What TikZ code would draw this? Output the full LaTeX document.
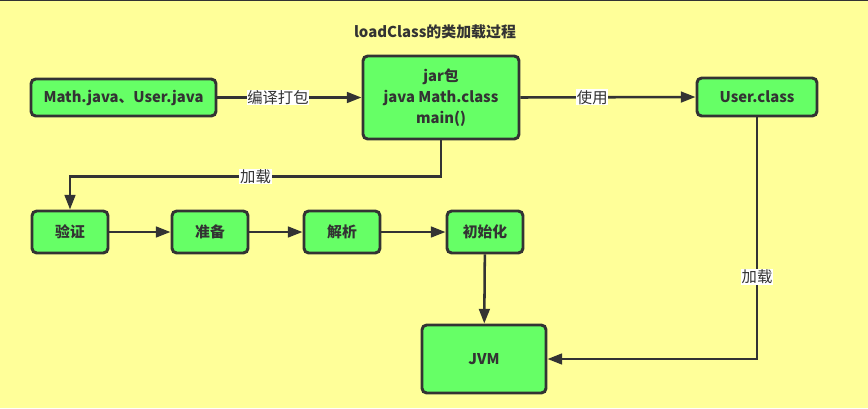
\documentclass[tikz,border=0pt]{standalone}
\usepackage{fontspec}
\setmainfont{Noto Sans CJK SC}
\usetikzlibrary{arrows.meta}
\definecolor{bgy}{HTML}{FFFF99}
\definecolor{boxg}{HTML}{66FF66}
\definecolor{ink}{HTML}{333333}
\tikzset{
  box/.style={draw=ink, fill=boxg, line width=2.2pt, rounded corners=3.5pt, font=\bfseries\fontsize{11.1}{15.5}\selectfont, text=ink, align=center, inner sep=0pt},
  conn/.style={draw=ink, line width=1.9pt, -{Triangle[length=11pt,width=8pt]}},
  lbl/.style={fill=white, inner sep=0.6pt, font=\fontsize{11.5}{13}\selectfont, text=ink}
}
\begin{document}
\begin{tikzpicture}[x=0.75pt,y=-0.75pt]
\fill[bgy] (0,0) rectangle (868,408);
\useasboundingbox (0,0) rectangle (868,408);
\draw[ink, line width=1.6pt] (0,0) -- (868,0);
\node[font=\bfseries\fontsize{11.2}{13}\selectfont, text=ink] (title) at (435,32) {loadClass的类加载过程};
\node[box, minimum width=138.75pt, minimum height=27.75pt] (src) at (123.5,97.5) {Math.java、User.java};
\node[box, minimum width=117pt, minimum height=62.25pt] (jar) at (441,97.5) {jar包\\java Math.class\\main()};
\node[box, minimum width=90pt, minimum height=28.5pt] (uc) at (757,97) {User.class};
\node[box, minimum width=57pt, minimum height=31.5pt] (v) at (70,232) {验证};
\node[box, minimum width=57pt, minimum height=31.5pt] (p) at (210,232) {准备};
\node[box, minimum width=57pt, minimum height=31.5pt] (r) at (342,232) {解析};
\node[box, minimum width=57pt, minimum height=31.5pt] (i) at (485,232) {初始化};
\node[box, minimum width=93pt, minimum height=51pt] (jvm) at (484,359) {JVM};
\draw[conn] (src.east) -- node[lbl, pos=0.42] {编译打包} (jar.west);
\draw[conn] (jar.east) -- node[lbl, pos=0.41] {使用} (uc.east -| uc.west);
\draw[conn] (jar.south) -- ++(0,36) -| node[lbl, pos=0.25] {加载} (v.north);
\draw[conn] (v) -- (p);
\draw[conn] (p) -- (r);
\draw[conn] (r) -- (i);
\draw[conn] (i) -- (jvm);
\draw[conn] (uc.south) |- node[lbl, pos=0.33] {加载} (jvm.east);
\end{tikzpicture}
\end{document}
